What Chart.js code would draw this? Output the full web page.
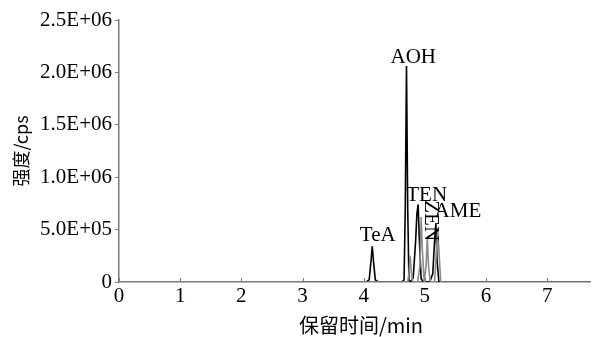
<!DOCTYPE html>
<html>
<head>
<meta charset="utf-8">
<script src="https://cdn.jsdelivr.net/npm/chart.js@4"></script>
<style>
  html, body { margin: 0; padding: 0; background: #fff; }
  #chart { display: block; }
</style>
</head>
<body>
<canvas id="chart" width="595" height="337"></canvas>
<script>
// black trace: retention time (min) / intensity (cps)
const blackTime = [3.0, 4.04, 4.09, 4.12, 4.14, 4.16, 4.19, 4.24, 4.62, 4.66, 4.68, 4.70, 4.72, 4.74, 4.77, 4.81, 4.85, 4.87, 4.89, 4.91, 4.94, 4.98, 5.08, 5.13, 5.16, 5.18, 5.20, 5.23, 7.7];
const blackIntensity = [0, 0, 20000, 200000, 340000, 200000, 20000, 0, 0, 20000, 700000, 2060000, 700000, 20000, 0, 40000, 400000, 650000, 740000, 400000, 30000, 0, 0, 80000, 400000, 560000, 200000, 0, 0];

// grey trace
const greyTime = [3.0, 4.72, 4.74, 4.76, 4.78, 4.80, 4.88, 4.92, 4.94, 4.96, 4.99, 5.02, 5.04, 5.06, 5.09, 5.16, 5.19, 5.21, 5.23, 5.26, 7.7];
const greyIntensity = [0, 0, 80000, 250000, 80000, 0, 0, 150000, 620000, 300000, 0, 150000, 430000, 150000, 0, 0, 300000, 500000, 300000, 0, 0];

// peak names and where they are written (text centre / baseline)
const peakNames = ['TeA', 'AOH', 'TEN', 'ZEN', 'AME'];
const peakTime = [4.23, 4.81, 5.03, 5.09, 5.54];
const peakIntensity = [390000, 2090000, 770000, 780000, 620000];

const xTicks = [0, 1, 2, 3, 4, 5, 6, 7];
const yTicks = [0, 500000, 1000000, 1500000, 2000000, 2500000];

const axisColor = '#7a7a7a';
const serif = '"Liberation Serif", "Times New Roman", serif';
const cjk = '"Noto Sans CJK SC", sans-serif';

function sci(v) {
    if (v === 0) return '0';
    return v.toExponential(1).toUpperCase().replace(/E\+(\d)$/, 'E+0$1');
}

// peak labels, inward x ticks and the x title
const extras = {
    id: 'extras',
    afterDatasetsDraw(chart) {
        const ctx = chart.ctx;
        const x = chart.scales.x;
        const y = chart.scales.y;
        ctx.save();
        ctx.strokeStyle = axisColor;
        ctx.lineWidth = 1;
        xTicks.forEach(t => {
            const px = Math.round(x.getPixelForValue(t)) + 0.5;
            ctx.beginPath();
            ctx.moveTo(px, y.bottom);
            ctx.lineTo(px, y.bottom - 4);
            ctx.stroke();
        });
        ctx.fillStyle = '#000';
        ctx.font = '21px ' + serif;
        ctx.textAlign = 'center';
        ctx.textBaseline = 'alphabetic';
        peakNames.forEach((name, i) => {
            const px = x.getPixelForValue(peakTime[i]);
            const py = y.getPixelForValue(peakIntensity[i]);
            if (name === 'ZEN') {
                ctx.save();
                ctx.translate(px, py);
                ctx.rotate(Math.PI / 2);
                ctx.textAlign = 'left';
                ctx.textBaseline = 'middle';
                ctx.fillText(name, 0, 0);
                ctx.restore();
            } else {
                ctx.fillText(name, px, py);
            }
        });
        ctx.font = '20px ' + cjk;
        ctx.textBaseline = 'middle';
        ctx.fillText('保留时间/min', 361, 325);
        ctx.restore();
    }
};

new Chart(document.getElementById('chart').getContext('2d'), {
    type: 'line',
    data: {
        datasets: [
            {
                label: 'grey',
                data: greyTime.map((t, i) => ({ x: t, y: greyIntensity[i] })),
                borderColor: '#8a8a8a',
                borderWidth: 1.6,
                pointRadius: 0,
                tension: 0
            },
            {
                label: 'black',
                data: blackTime.map((t, i) => ({ x: t, y: blackIntensity[i] })),
                borderColor: '#000',
                borderWidth: 1.6,
                pointRadius: 0,
                tension: 0
            }
        ]
    },
    options: {
        responsive: false,
        animation: false,
        layout: { padding: { left: 10, top: 20, right: 5, bottom: 0 } },
        plugins: {
            legend: { display: false },
            tooltip: { enabled: false }
        },
        scales: {
            x: {
                type: 'linear',
                min: 0,
                max: 7.7,
                afterBuildTicks: s => { s.ticks = xTicks.map(v => ({ value: v })); },
                afterFit: s => { s.height = 55; },
                grid: { display: true, drawOnChartArea: false, drawTicks: false },
                border: { color: axisColor, width: 1.5 },
                ticks: { color: '#000', font: { family: serif, size: 21 }, padding: 2, maxRotation: 0 },
                title: { display: false }
            },
            y: {
                min: 0,
                max: 2500000,
                afterBuildTicks: s => { s.ticks = yTicks.map(v => ({ value: v })); },
                afterFit: s => { s.width = 109; },
                grid: { display: true, drawOnChartArea: false, tickLength: 4, color: axisColor },
                border: { color: axisColor, width: 1.5 },
                ticks: { color: '#000', font: { family: serif, size: 21 }, padding: 3, callback: v => sci(v) },
                title: { display: true, text: '强度/cps', color: '#000', font: { family: cjk, size: 18 }, padding: { top: 0, bottom: 0 } }
            }
        }
    },
    plugins: [extras]
});
</script>
</body>
</html>
